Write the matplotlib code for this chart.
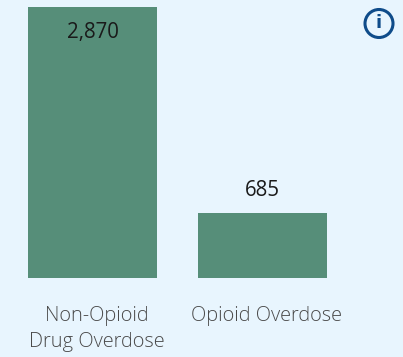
import matplotlib
matplotlib.use("Agg")
import matplotlib.pyplot as plt
from matplotlib.patches import Circle
from matplotlib.transforms import ScaledTranslation, Affine2D

categories = ["Non-Opioid\nDrug Overdose", "Opioid Overdose"]
values = [2870, 685]
value_labels = ["2,870", "685"]

W, H = 403, 357
BG = "#E8F5FE"
BAR = "#568E79"
plt.rcParams["font.family"] = ["Open Sans", "DejaVu Sans"]

fig = plt.figure(figsize=(W / 100, H / 100), dpi=100, facecolor=BG)
ax = fig.add_axes([0, (H - 278) / H, 1, 271.5 / H], facecolor=BG)
ax.set_xlim(-0.5464, 1.8277)
ax.set_ylim(0, 2870)
x = list(range(len(categories)))
ax.bar(x, values, width=0.758, color=BAR, edgecolor="none")
for s in ax.spines.values():
    s.set_visible(False)
ax.set_yticks([])
ax.set_xticks(x)
ax.set_xticklabels(categories, fontsize=14.4, color="#4A4A4A", linespacing=1.4, fontweight="light")
ax.tick_params(axis="x", length=0, pad=20)
shift = ScaledTranslation(3.8 / 100, 0, fig.dpi_scale_trans)
for lab in ax.get_xticklabels():
    lab.set_transform(lab.get_transform() + shift)

# value labels: inside the bar when tall, above when short
ax.annotate(value_labels[0], (0, values[0]), xytext=(0, -26 * 0.72), textcoords="offset points",
            ha="center", va="center", fontsize=14.8, color="#1A1A1A")
ax.annotate(value_labels[1], (1, values[1]), xytext=(0, 22.5 * 0.72), textcoords="offset points",
            ha="center", va="center", fontsize=14.8, color="#1A1A1A")

# info icon, placed in figure pixels
icon = Circle((0, 0), 1, facecolor="none", edgecolor="#0F4C8A", linewidth=2.2)
fig.add_artist(icon)
icon.set_transform(Affine2D().scale(14).translate(379, H - 23.5))
fig.text(379 / W, (H - 23.5) / H, "i", ha="center", va="center", fontsize=13, fontweight="bold",
         color="#0F4C8A", family="DejaVu Sans")

fig.savefig("out.png", dpi=100, facecolor=BG)
